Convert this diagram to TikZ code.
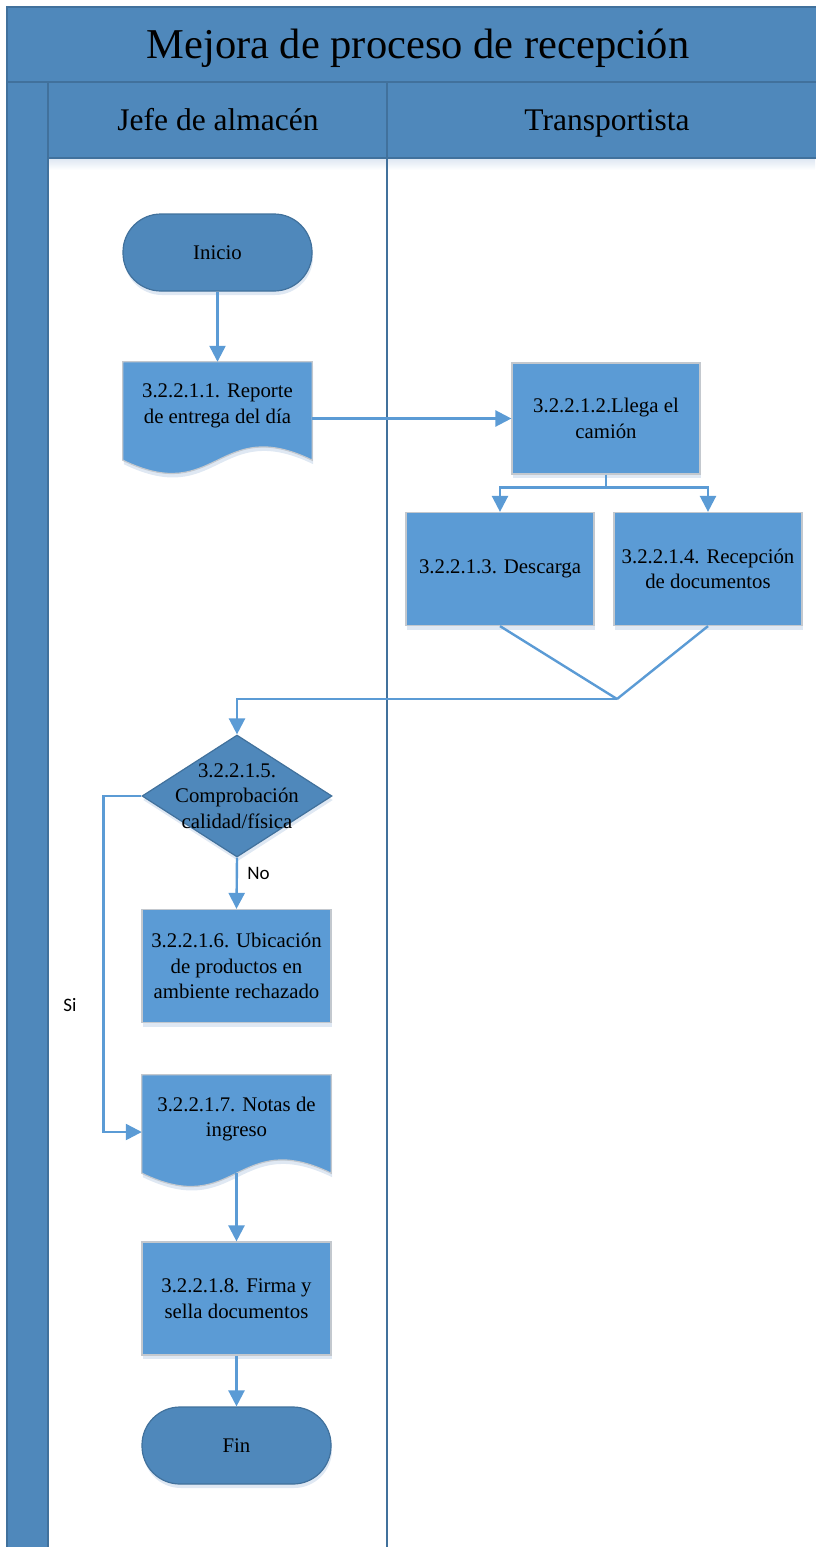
\documentclass[tikz,border=0pt]{standalone}
\usepackage{fontspec}
\setmainfont{Liberation Serif}
\newfontfamily\labelfont{Carlito}
\usetikzlibrary{shapes.geometric,arrows.meta,calc,shadows}

\definecolor{hdrfill}{HTML}{4F88BB}
\definecolor{hdrline}{HTML}{41719C}
\definecolor{boxfill}{HTML}{5B9BD5}
\definecolor{boxline}{HTML}{C3C8CE}
\definecolor{flow}{HTML}{5B9BD5}
\definecolor{shade}{HTML}{DCE6F2}

\pgfdeclarelayer{bg}
\pgfsetlayers{bg,main}

\tikzset{
  boxshadow/.style={drop shadow={shadow xshift=1pt, shadow yshift=-4pt, fill=shade, opacity=0.9}},
  boxtext/.style={font=\fontsize{20.8}{25.5}\selectfont, align=center, text=black},
  procbox/.style={rectangle, fill=boxfill, draw=boxline, line width=1.2pt,
    minimum width=189pt, minimum height=113pt, inner sep=2pt, boxtext, boxshadow},
  termbox/.style={rectangle, rounded corners=38pt, fill=hdrfill, draw=hdrline, line width=1.2pt,
    minimum width=189pt, minimum height=77pt, inner sep=2pt, boxtext, boxshadow},
  decbox/.style={diamond, fill=hdrfill, draw=hdrline, line width=1.2pt,
    minimum width=190pt, minimum height=122pt, inner sep=0pt, aspect=1.56, boxshadow},
  docnode/.style={rectangle, draw=none, minimum width=189pt, minimum height=88pt, inner sep=2pt, boxtext},
  docpath/.style={fill=boxfill, draw=boxline, line width=1.2pt, boxshadow},
  lanefill/.style={fill=hdrfill, draw=hdrline, line width=1.6pt},
  lanetitle/.style={font=\fontsize{31.5}{36}\selectfont, anchor=base},
  flowline/.style={draw=flow, line width=2.4pt},
  flowarrow/.style={flowline, -{Triangle[length=16pt,width=16pt]}},
  flowlabel/.style={font=\labelfont\fontsize{19}{22}\selectfont, text=black}
}

% document symbol: straight top and sides, wavy bottom below the node
\newcommand{\docsymbol}[1]{%
  \begin{pgfonlayer}{bg}
    \path[docpath] (#1.north west) -- (#1.north east) -- ($(#1.south east)+(0,10)$)
      .. controls ($(#1.south)+(0,-36)$) and ($(#1.south)+(0,56)$) .. ($(#1.south west)+(0,10)$)
      -- cycle;
  \end{pgfonlayer}}

\begin{document}
\begin{tikzpicture}[x=1pt,y=-1pt]
\useasboundingbox (0,0) rectangle (815,1547);

% swimlane frame
\shade[top color=shade, bottom color=white] (48,158) rectangle (815,170);
\path[lanefill] (7,7) rectangle (820,82);
\path[lanefill] (7,82) rectangle (48,1552);
\path[lanefill] (48,82) rectangle (387,158);
\path[lanefill] (387,82) rectangle (820,158);
\draw[draw=hdrline, line width=2pt] (387,158) -- (387,1552);
\node[font=\fontsize{42.5}{48}\selectfont, anchor=base] (title) at (418,58) {Mejora de proceso de recepción};
\node[lanetitle] (lane1) at (218,130) {Jefe de almacén};
\node[lanetitle] (lane2) at (607,130) {Transportista};

% steps
\node[termbox] (ini) at (217.5,252.5) {Inicio};
\node[docnode] (doc1) at (217.5,406) {3.2.2.1.1. Reporte\\de entrega del día};
\docsymbol{doc1}
\node[procbox, minimum width=188pt, minimum height=111pt] (box2) at (606,418.5) {3.2.2.1.2.Llega el\\camión};
\node[procbox, minimum width=188pt] (box3) at (500,569) {3.2.2.1.3. Descarga};
\node[procbox, minimum width=188pt] (box4) at (708,569) {3.2.2.1.4. Recepción\\de documentos};
\node[decbox] (dec) at (237,796) {};
\node[boxtext] (dectext) at (dec) {3.2.2.1.5.\\Comprobación\\calidad/física};
\node[procbox] (box6) at (236.5,966) {3.2.2.1.6. Ubicación\\de productos en\\ambiente rechazado};
\node[docnode] (doc7) at (236.5,1119) {3.2.2.1.7. Notas de\\ingreso};
\docsymbol{doc7}
\node[procbox] (box8) at (236.5,1298.5) {3.2.2.1.8. Firma y\\sella documentos};
\node[termbox] (fin) at (236.5,1445.5) {Fin};

\coordinate (merge) at (617,699);
\coordinate (doc7out) at ($(doc7.south)+(0,10)$);

% connectors
\draw[flowarrow] (ini) -- (doc1);
\draw[flowarrow] (doc1.east |- box2.west) -- (box2.west);
\draw[flowarrow] (box2.south) -- ++(0,13) -| (box3.north);
\draw[flowarrow] (box2.south) -- ++(0,13) -| (box4.north);
\draw[flowline] (box3.south) -- (merge);
\draw[flowline] (box4.south) -- (merge);
\draw[flowarrow] (merge) -| (dec.north);
\draw[flowarrow] (dec.south) -- node[flowlabel, pos=0.3, right=6pt] (no) {No} (box6.north);
\draw[flowarrow] (dec.west) -- ++(-38,0) |- ([yshift=-13pt]doc7.west);
\node[flowlabel] (si) at (70,1005) {Si};
\draw[flowarrow] (doc7out) -- (box8.north);
\draw[flowarrow] (box8) -- (fin);
\end{tikzpicture}
\end{document}
